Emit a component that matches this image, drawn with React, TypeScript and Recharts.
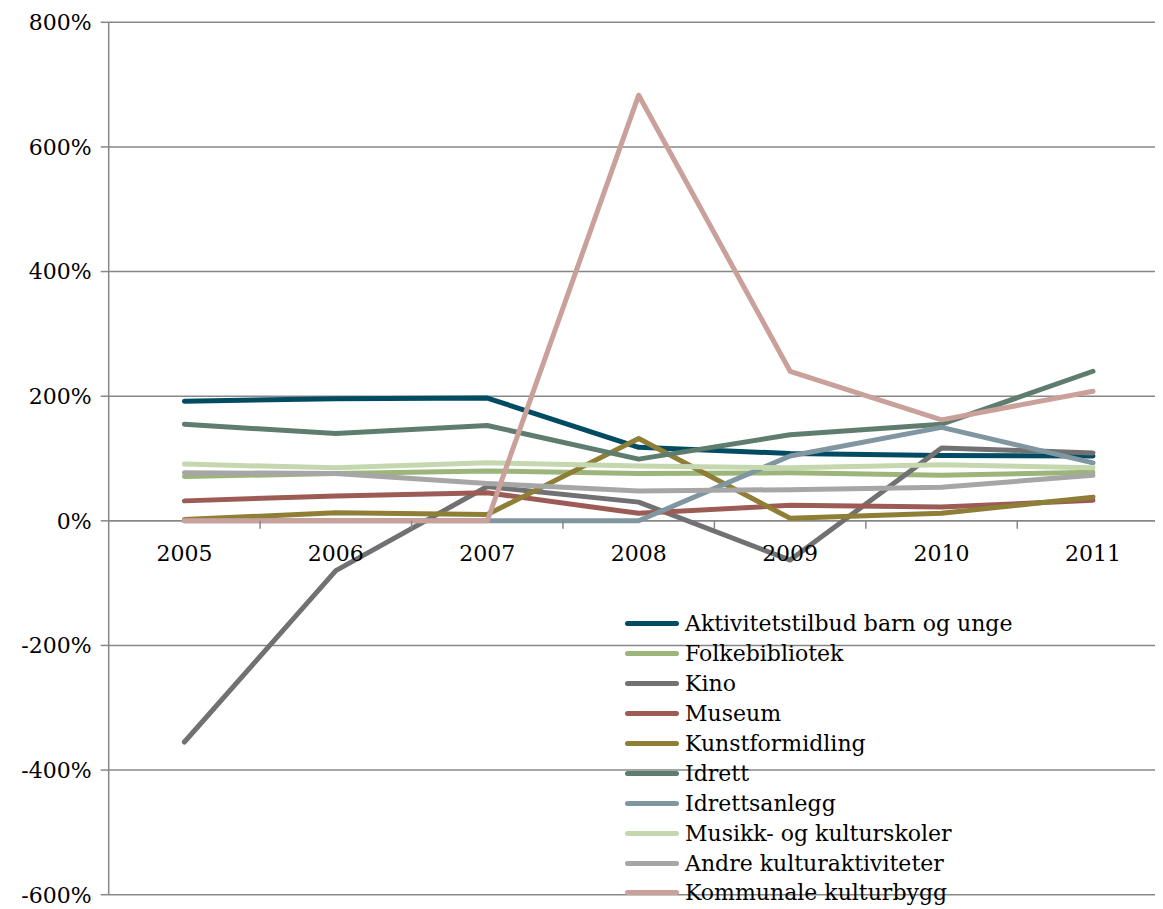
import { LineChart, Line, XAxis, YAxis, CartesianGrid, Legend, ReferenceLine } from 'recharts';

const years = ['2005', '2006', '2007', '2008', '2009', '2010', '2011'];

const aktivitetstilbud = [192, 196, 197, 118, 108, 105, 104];
const folkebibliotek = [71, 76, 80, 76, 77, 73, 78];
const kino = [-355, -80, 55, 30, -63, 117, 109];
const museum = [32, 40, 45, 12, 25, 22, 33];
const kunstformidling = [2, 13, 10, 132, 4, 12, 38];
const idrett = [155, 140, 153, 99, 138, 155, 240];
const idrettsanlegg = [0, 0, 0, 0, 104, 150, 93];
const musikk = [91, 85, 93, 88, 85, 90, 85];
const andre = [77, 76, 60, 48, 50, 54, 73];
const kommunale = [0, 0, 0, 683, 240, 162, 208];

const yTicks = [-600, -400, -200, 0, 200, 400, 600, 800];

const series = [
  { key: 'Aktivitetstilbud barn og unge', values: aktivitetstilbud, color: '#024C63' },
  { key: 'Folkebibliotek', values: folkebibliotek, color: '#9BB57A' },
  { key: 'Kino', values: kino, color: '#717174' },
  { key: 'Museum', values: museum, color: '#9C5C55' },
  { key: 'Kunstformidling', values: kunstformidling, color: '#8F7E36' },
  { key: 'Idrett', values: idrett, color: '#5F7D6E' },
  { key: 'Idrettsanlegg', values: idrettsanlegg, color: '#8096A1' },
  { key: 'Musikk- og kulturskoler', values: musikk, color: '#C5D7AE' },
  { key: 'Andre kulturaktiviteter', values: andre, color: '#A6A6A6' },
  { key: 'Kommunale kulturbygg', values: kommunale, color: '#C9A09A' },
];

const data = years.map((year, i) => {
  const row: Record<string, string | number> = { year };
  series.forEach(s => { row[s.key] = s.values[i]; });
  return row;
});

const FONT = '"DejaVu Serif", serif';
const W = 1170;
const H = 901;
const TOP = 14.3;
const BOTTOM = 13.3;
const PLOT_H = H - TOP - BOTTOM - 1;
const Y_MIN = -600;
const Y_MAX = 800;
// y of the 0% line, where the category labels sit
const ZERO_Y = TOP + PLOT_H * (Y_MAX / (Y_MAX - Y_MIN));
const HALF_BAND = 75.7;

const YearTick = (props: any) => {
  const { x, payload } = props;
  return (
    <g>
      <line x1={x + HALF_BAND} x2={x + HALF_BAND} y1={ZERO_Y} y2={ZERO_Y + 8} stroke="#878787" strokeWidth={1.5} />
      <text x={x} y={ZERO_Y + 40} textAnchor="middle" fontFamily={FONT} fontSize={22} fill="#000">
        {payload.value}
      </text>
    </g>
  );
};

const LegendBox = () => (
  <div style={{ fontFamily: FONT, fontSize: 22, color: '#000', textAlign: 'left' }}>
    {series.map(s => (
      <div key={s.key} style={{ display: 'flex', alignItems: 'center', height: 29.9 }}>
        <div style={{ width: 54, height: 5, background: s.color, borderRadius: 3, marginRight: 6 }} />
        <span style={{ whiteSpace: 'nowrap' }}>{s.key}</span>
      </div>
    ))}
  </div>
);

export default function App() {
  return (
    <div style={{ width: 1155, height: 901, overflow: 'hidden' }}>
      <LineChart width={W} height={H} data={data} margin={{ top: TOP, right: 9.3, bottom: BOTTOM, left: 0 }}>
        <CartesianGrid vertical={false} stroke="#878787" strokeWidth={1.5} />
        <XAxis
          dataKey="year"
          height={1}
          axisLine={false}
          tickLine={false}
          padding={{ left: HALF_BAND, right: HALF_BAND }}
          tick={(p: any) => <YearTick {...p} />}
          interval={0}
        />
        <YAxis
          width={100.7}
          domain={[Y_MIN, Y_MAX]}
          ticks={yTicks}
          interval={0}
          tickFormatter={(v) => `${v}%`}
          stroke="#878787"
          strokeWidth={1.5}
          tickSize={8}
          tickMargin={9}
          tick={{ fill: '#000', fontFamily: FONT, fontSize: 22 }}
        />
        <ReferenceLine y={0} stroke="#878787" strokeWidth={1.5} />
        <Legend
          layout="vertical"
          verticalAlign="middle"
          align="center"
          wrapperStyle={{ left: 617, top: 601, width: 420 }}
          content={<LegendBox />}
        />
        {series.map(s => (
          <Line
            key={s.key}
            dataKey={s.key}
            stroke={s.color}
            strokeWidth={5}
            strokeLinecap="round"
            strokeLinejoin="round"
            dot={false}
            activeDot={false}
            isAnimationActive={false}
          />
        ))}
      </LineChart>
    </div>
  );
}
